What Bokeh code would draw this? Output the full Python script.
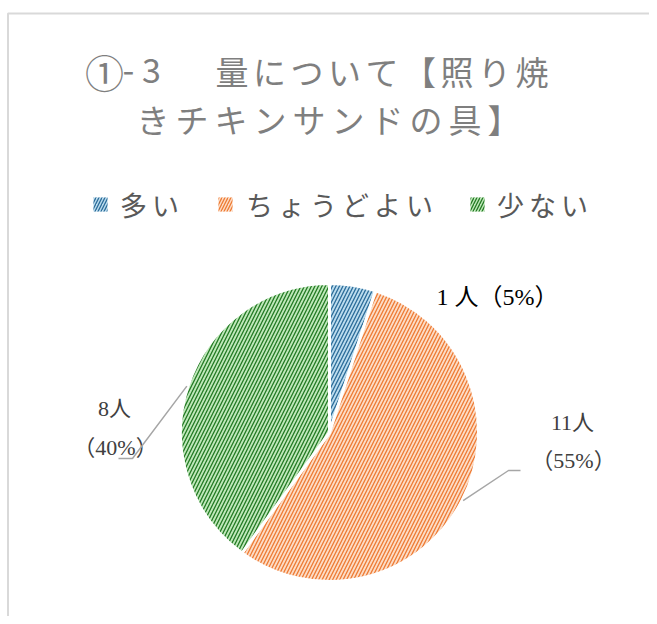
import math
from bokeh.plotting import figure
from bokeh.models import Range1d, ColumnDataSource
from bokeh.core.properties import value
from bokeh.embed import file_html
from bokeh.resources import INLINE

# ---------------- data ----------------
categories = ["多い", "ちょうどよい", "少ない"]
counts = [1, 11, 8]
percents = [5, 55, 40]
label_line1 = ["1 人（5%）", "11人", "8人"]
label_line2 = ["", "（55%）", "（40%）"]
title_line1 = "量について【照り焼"
title_prefix = ["①", "-", "3"]
title_line2 = "きチキンサンドの具】"

fills = ["#bcdcee", "#fcdcc6", "#bfe8ba"]
hatches = ["#2b6c99", "#ee7b33", "#237a23"]

JP = "Noto Sans CJK JP"
SERIF = "'Liberation Serif', 'Noto Sans CJK JP'"

W, H = 649, 616
p = figure(width=W, height=H, output_backend="svg", toolbar_location=None,
           x_range=Range1d(0, W), y_range=Range1d(0, H),
           min_border=0, outline_line_color=None)
p.xaxis.visible = False
p.yaxis.visible = False
p.grid.visible = False
p.background_fill_color = "white"
p.border_fill_color = "white"


def sy(y):
    # picture y (top-down pixels) -> data y
    return H - y


# chart-area border (top and left)
p.line(x=[7.5, 7.5, W], y=[sy(H + 5), sy(13), sy(13)], line_color="#d9d9d9", line_width=2)

# ---------------- title ----------------
def spaced(text, x0, y, pitch, size, color, font=JP):
    xs = [x0 + i * pitch for i in range(len(text))]
    p.text(x=xs, y=[sy(y)] * len(text), text=list(text), text_align="center",
           text_baseline="middle", text_font=value(font),
           text_font_size=f"{size}px", text_color=color)

TITLE_COLOR = "#7f7f7f"
p.text(x=[104], y=[sy(70)], text=[title_prefix[0]], text_align="center",
       text_baseline="middle", text_font=value(JP), text_font_size="39px",
       text_color=TITLE_COLOR)
p.text(x=[128, 151], y=[sy(70)] * 2, text=title_prefix[1:], text_align="center",
       text_baseline="middle", text_font=value(JP), text_font_size="34px",
       text_color=TITLE_COLOR)
spaced(title_line1, 231.5, 70, 37.5, 33, TITLE_COLOR)
spaced(title_line2, 152.5, 118, 39.0, 33, TITLE_COLOR)

# ---------------- legend ----------------
LEG_COLOR = "#595959"
leg_sq_x = [100, 225, 477]
leg_txt_x = [133, 259, 510]
leg_y = 204
p.rect(x=leg_sq_x, y=[sy(leg_y)] * 3, width=14, height=14, fill_color=fills,
       hatch_color=hatches, hatch_pattern="/", hatch_scale=6, hatch_weight=1.3,
       line_color=None)
for cat, x0 in zip(categories, leg_txt_x):
    spaced(cat, x0, leg_y, 32, 27, LEG_COLOR)

# ---------------- pie ----------------
CX, CY, R = 329, sy(432), 149
total = sum(counts)
starts, ends, mids = [], [], []
cum = 0.0
for c in counts:
    a0 = math.pi / 2 - 2 * math.pi * cum / total
    cum += c
    a1 = math.pi / 2 - 2 * math.pi * cum / total
    starts.append(a0)
    ends.append(a1)
    mids.append((a0 + a1) / 2)

src = ColumnDataSource(dict(start=starts, end=ends, fill=fills, hatch=hatches,
                            cat=categories, count=counts))
p.wedge(x=CX, y=CY, radius=R, start_angle="start", end_angle="end", direction="clock",
        fill_color="fill", hatch_color="hatch", hatch_pattern="/", hatch_scale=7,
        hatch_weight=1.3, line_color="white", line_width=3, source=src)

# ---------------- data labels ----------------
LBL_COLOR = "#404040"
p.text(x=[497], y=[sy(296)], text=[label_line1[0]], text_align="center",
       text_baseline="middle", text_font=value(SERIF), text_font_size="24px",
       text_color="#000000")
p.text(x=[572, 573], y=[sy(422), sy(460)], text=[label_line1[1], label_line2[1]],
       text_align="center", text_baseline="middle", text_font=value(SERIF),
       text_font_size="22px", text_color=LBL_COLOR)
p.text(x=[114, 115], y=[sy(408), sy(447)], text=[label_line1[2], label_line2[2]],
       text_align="center", text_baseline="middle", text_font=value(SERIF),
       text_font_size="22px", text_color=LBL_COLOR)

# leader lines from slice mid-angle on the rim
LEAD = "#a6a6a6"
for i, (ex, ey, tx) in [(1, (508, 470, 520)), (2, (132, 458, 118))]:
    rx = CX + (R + 1) * math.cos(mids[i])
    ry = CY + (R + 1) * math.sin(mids[i])
    p.line(x=[rx, ex, tx], y=[ry, sy(ey), sy(ey)], line_color=LEAD, line_width=1.5)

open("out.html", "w").write(file_html(p, INLINE))
